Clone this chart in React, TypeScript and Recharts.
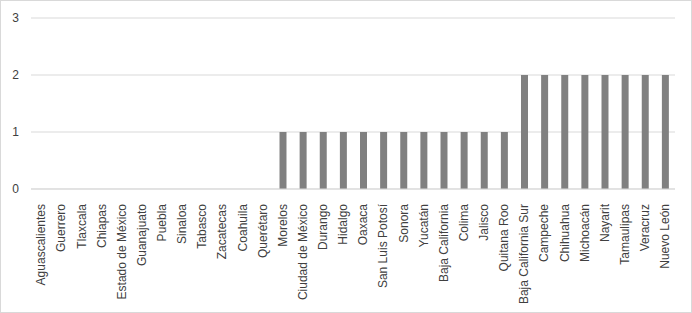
import { BarChart, Bar, XAxis, YAxis, CartesianGrid } from 'recharts';

const states = [
  'Aguascalientes', 'Guerrero', 'Tlaxcala', 'Chiapas', 'Estado de México', 'Guanajuato',
  'Puebla', 'Sinaloa', 'Tabasco', 'Zacatecas', 'Coahuila', 'Querétaro',
  'Morelos', 'Ciudad de México', 'Durango', 'Hidalgo', 'Oaxaca', 'San Luis Potosí',
  'Sonora', 'Yucatán', 'Baja California', 'Colima', 'Jalisco', 'Quitana Roo',
  'Baja California Sur', 'Campeche', 'Chihuahua', 'Michoacán', 'Nayarit', 'Tamaulipas',
  'Veracruz', 'Nuevo León',
];

const counts = [
  0, 0, 0, 0, 0, 0, 0, 0, 0, 0, 0, 0,
  1, 1, 1, 1, 1, 1, 1, 1, 1, 1, 1, 1,
  2, 2, 2, 2, 2, 2, 2, 2,
];

const yTicks = [0, 1, 2, 3];

const data = states.map((name, i) => ({ name, value: counts[i] }));

const FONT = '"Liberation Sans", Arial, sans-serif';

function StateTick(props: any) {
  const { x, y, payload } = props;
  return (
    <text
      x={x}
      y={y + 7}
      dy="0.35em"
      transform={`rotate(-90, ${x}, ${y + 7})`}
      textAnchor="end"
      fontSize={12}
      fontFamily={FONT}
      fill="#404040"
    >
      {payload.value}
    </text>
  );
}

export default function App() {
  return (
    <div
      style={{
        position: 'absolute',
        left: 0,
        top: 0,
        width: 692,
        height: 313,
        border: '1px solid #d9d9d9',
        boxSizing: 'border-box',
        background: '#fff',
      }}
    >
      <BarChart
        width={690}
        height={311}
        data={data}
        margin={{ top: 17, right: 16, left: 0, bottom: 0 }}
        barSize={7}
      >
        <CartesianGrid vertical={false} stroke="#d9d9d9" />
        <XAxis
          dataKey="name"
          interval={0}
          height={123}
          tickLine={false}
          axisLine={{ stroke: '#d9d9d9' }}
          tick={<StateTick />}
        />
        <YAxis
          width={30}
          domain={[0, 3]}
          ticks={yTicks}
          tickLine={false}
          axisLine={false}
          tickSize={0}
          tickMargin={12}
          tick={{ fontSize: 12, fill: '#404040', fontFamily: FONT }}
        />
        <Bar dataKey="value" fill="#808080" isAnimationActive={false} />
      </BarChart>
    </div>
  );
}
